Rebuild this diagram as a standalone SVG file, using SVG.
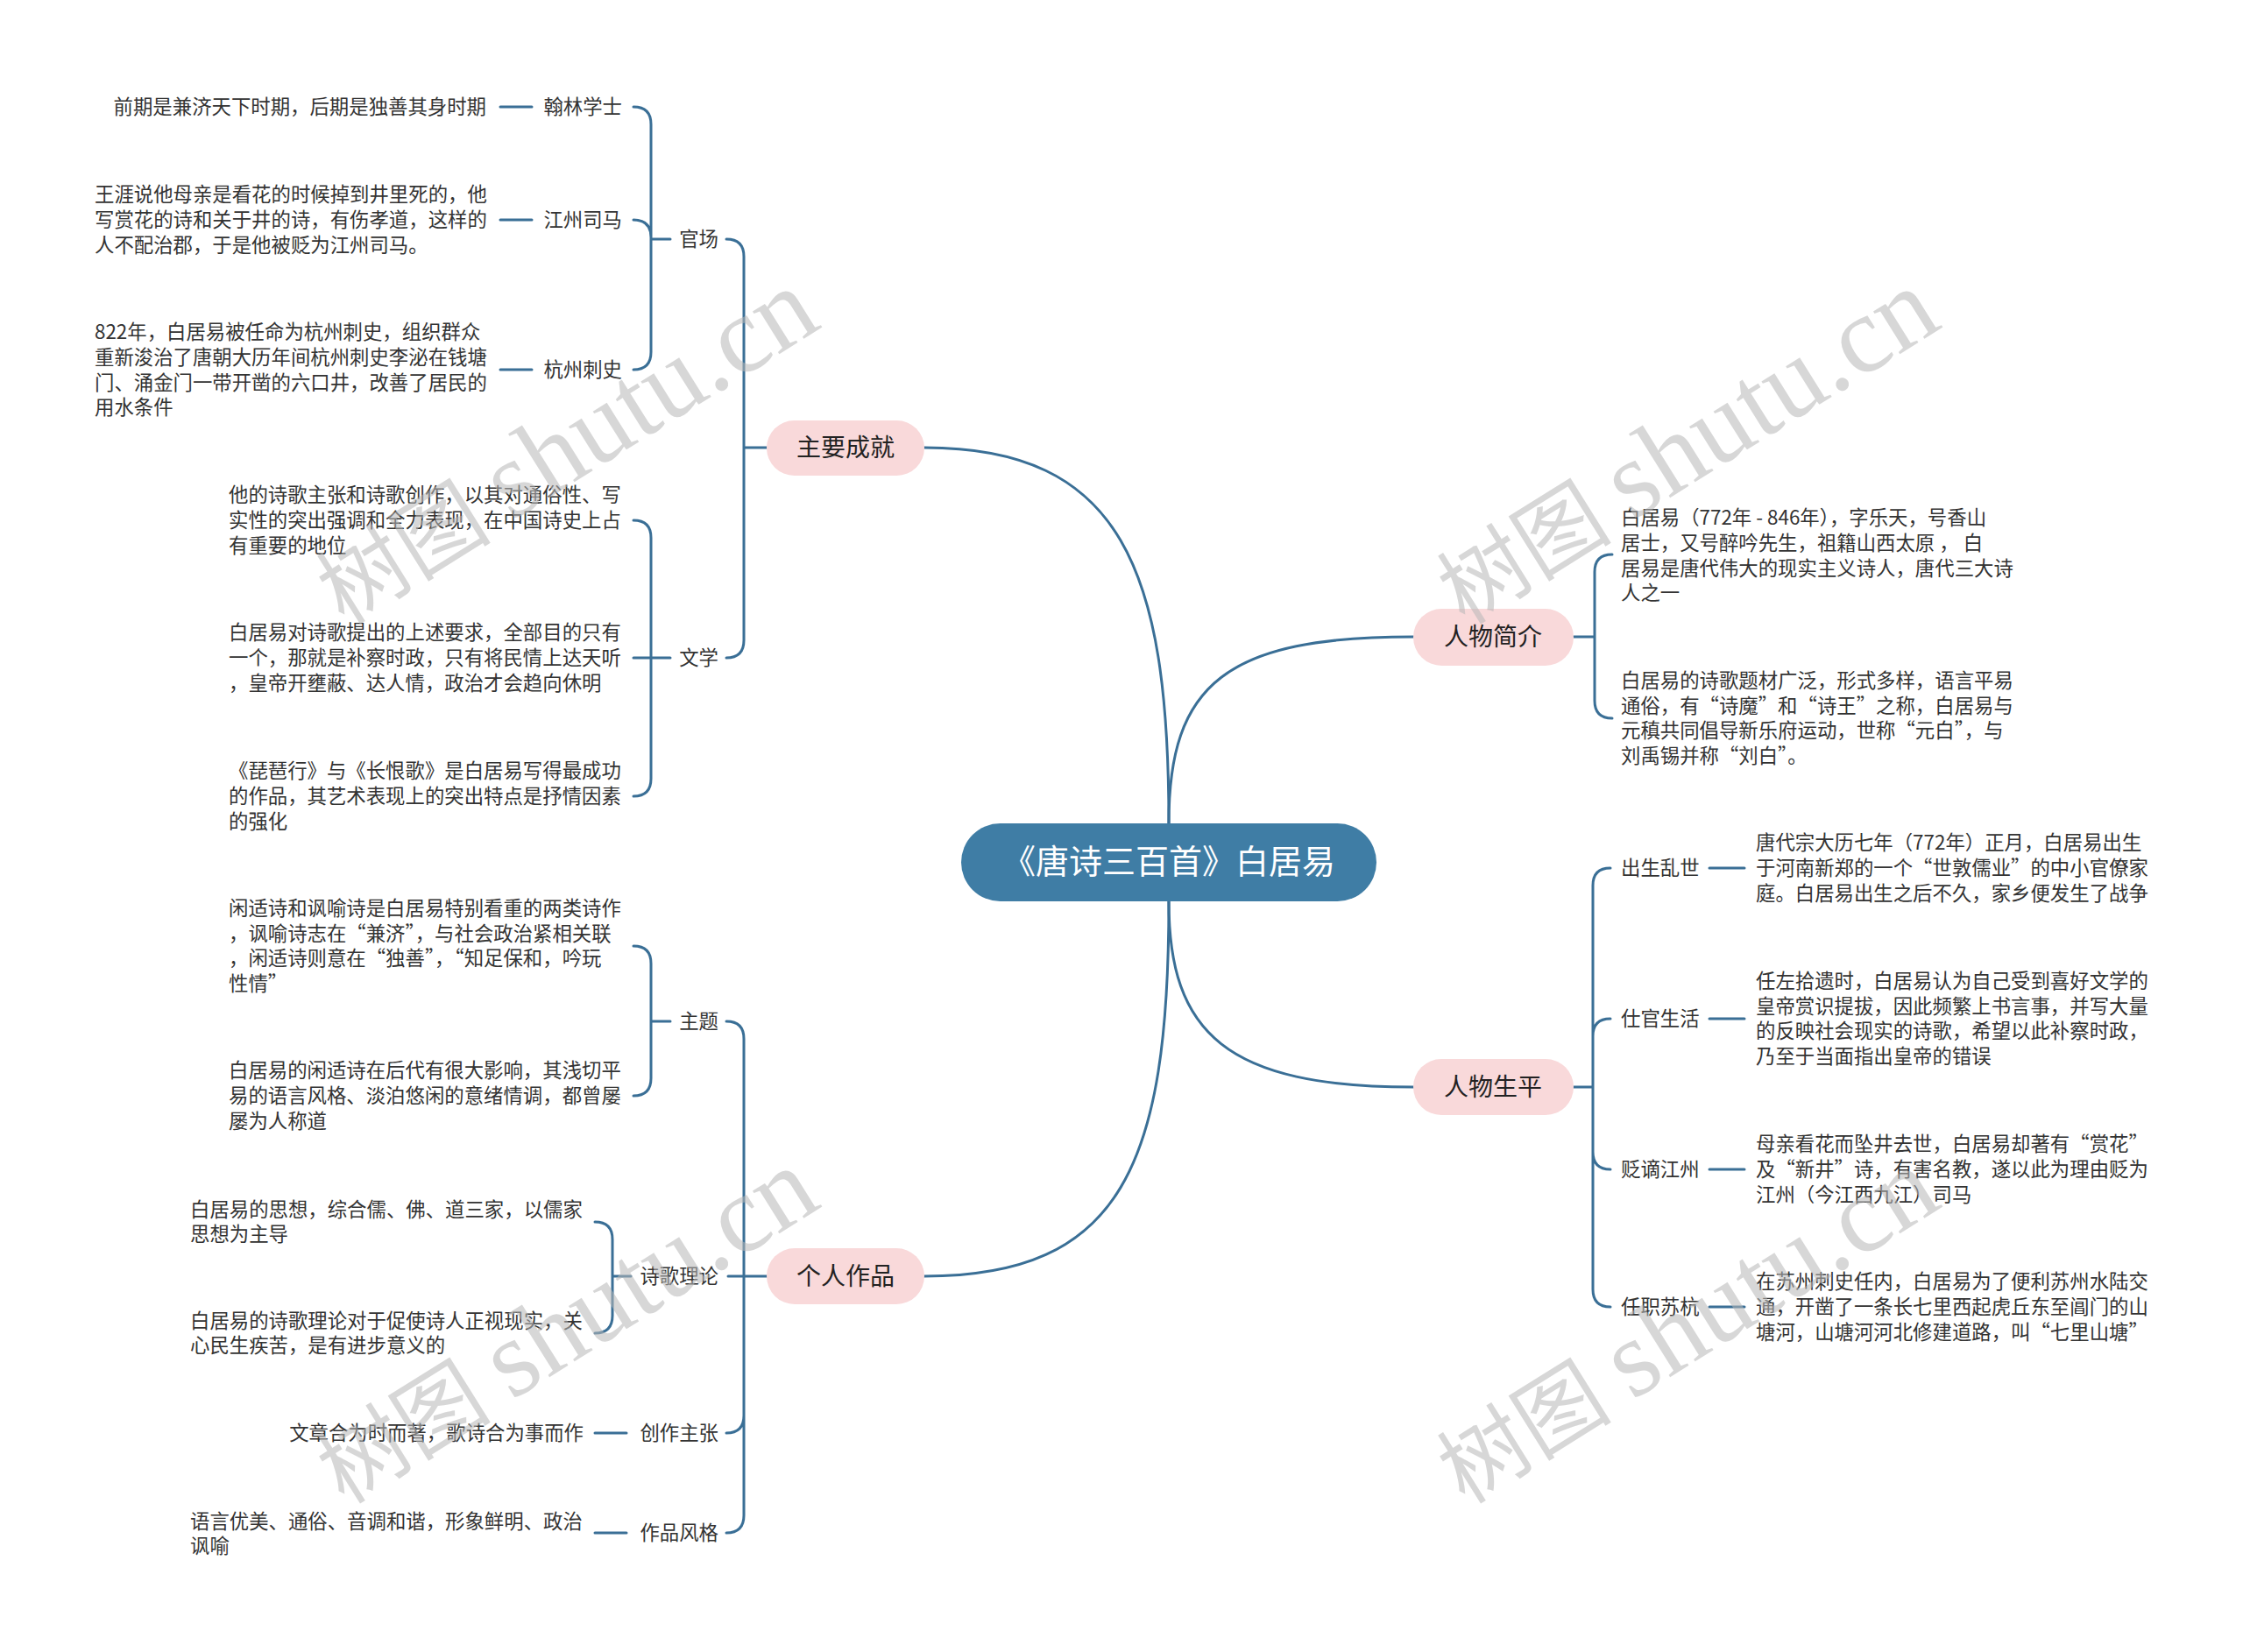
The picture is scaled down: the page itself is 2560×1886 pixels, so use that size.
<svg xmlns="http://www.w3.org/2000/svg" width="2560" height="1886" viewBox="0 0 2560 1886">
<style>
.c{fill:none;stroke:#3a6f96;stroke-width:3;stroke-linecap:round}
.t{font-family:"Noto Sans CJK SC","Liberation Sans",sans-serif;font-size:22.4px;fill:#333}
.e{text-anchor:end}
.l1{font-family:"Noto Sans CJK SC","Liberation Sans",sans-serif;font-size:28px;fill:#222;text-anchor:middle}
.b1{fill:#f9d9da}
.wm{font-family:"Liberation Serif","Noto Sans CJK SC",serif;fill:#b8b8b8;opacity:0.55;text-anchor:middle}
</style>
<rect width="2560" height="1886" fill="#fff"/>
<g id="connectors">
<path class="c" d="M1334,940 C1334,650 1280,511 1055,511"/>
<path class="c" d="M1334,940 C1334,780 1400,727 1613,727"/>
<path class="c" d="M1334,1029 C1334,1180 1400,1241 1613,1241"/>
<path class="c" d="M1334,1029 C1334,1330 1280,1457 1055,1457"/>
<path class="c" d="M875,511 H849 M849,511 V293 Q849,273 829,273 M849,511 V731 Q849,751 829,751"/>
<path class="c" d="M765,273 H743 M743,273 V142 Q743,122 723,122 M743,273 V271 Q743,251 723,251 M743,273 V402 Q743,422 723,422"/>
<path class="c" d="M607,122 H571 M607,251 H571 M607,422 H571"/>
<path class="c" d="M765,751 H743 M743,751 V614 Q743,594 723,594 M743,751 H723 M743,751 V889 Q743,909 723,909"/>
<path class="c" d="M875,1457 H831 M849,1457 V1186 Q849,1166 829,1166 M849,1457 V1616 Q849,1636 829,1636 M849,1457 V1730 Q849,1750 829,1750"/>
<path class="c" d="M765,1166 H743 M743,1166 V1100 Q743,1080 723,1080 M743,1166 V1231 Q743,1251 723,1251"/>
<path class="c" d="M720,1457 H699 M699,1457 V1415 Q699,1395 679,1395 M699,1457 V1502 Q699,1522 679,1522"/>
<path class="c" d="M715,1636 H679 M715,1750 H679"/>
<path class="c" d="M1796,727 H1820 M1820,727 V653 Q1820,633 1840,633 M1820,727 V800 Q1820,820 1840,820"/>
<path class="c" d="M1796,1241 H1818 M1818,1241 V1011 Q1818,991 1838,991 M1818,1241 V1183 Q1818,1163 1838,1163 M1818,1241 V1315 Q1818,1335 1838,1335 M1818,1241 V1472 Q1818,1492 1838,1492"/>
<path class="c" d="M1951,991 H1991 M1951,1163 H1991 M1951,1335 H1991 M1951,1492 H1991"/>
</g>
<g id="root">
<rect x="1097" y="940" width="474" height="89" rx="44.5" fill="#3f7da5"/>
<text x="1334" y="997" font-family="Noto Sans CJK SC,Liberation Sans,sans-serif" font-size="38" fill="#fff" text-anchor="middle">《唐诗三百首》白居易</text>
</g>
<g id="n-zhuyao"><rect class="b1" x="875" y="480" width="180" height="63" rx="31.5"/><text class="l1" x="965" y="521">主要成就</text></g>
<g id="n-jianjie"><rect class="b1" x="1613" y="695" width="183" height="65" rx="32.5"/><text class="l1" x="1704" y="737">人物简介</text></g>
<g id="n-shengping"><rect class="b1" x="1613" y="1209" width="183" height="64" rx="32"/><text class="l1" x="1704" y="1251">人物生平</text></g>
<g id="n-zuopin"><rect class="b1" x="875" y="1425" width="180" height="64" rx="32"/><text class="l1" x="965" y="1467">个人作品</text></g>

<g id="n-guanchang"><text class="t e" x="820" y="281">官场</text></g>
<g id="n-hanlin"><text class="t e" x="710" y="130">翰林学士</text><text class="t e" x="555" y="130">前期是兼济天下时期，后期是独善其身时期</text></g>
<g id="n-jiangzhou"><text class="t e" x="710" y="259">江州司马</text>
<text class="t"><tspan x="108" y="230">王涯说他母亲是看花的时候掉到井里死的，他</tspan><tspan x="108" y="259">写赏花的诗和关于井的诗，有伤孝道，这样的</tspan><tspan x="108" y="288">人不配治郡，于是他被贬为江州司马。</tspan></text></g>
<g id="n-hangzhou"><text class="t e" x="710" y="430">杭州刺史</text>
<text class="t"><tspan x="108" y="387">822年，白居易被任命为杭州刺史，组织群众</tspan><tspan x="108" y="416">重新浚治了唐朝大历年间杭州刺史李泌在钱塘</tspan><tspan x="108" y="445">门、涌金门一带开凿的六口井，改善了居民的</tspan><tspan x="108" y="473">用水条件</tspan></text></g>

<g id="n-wenxue"><text class="t e" x="820" y="759">文学</text></g>
<g id="n-wx1"><text class="t"><tspan x="261" y="573">他的诗歌主张和诗歌创作，以其对通俗性、写</tspan><tspan x="261" y="602">实性的突出强调和全力表现，在中国诗史上占</tspan><tspan x="261" y="631">有重要的地位</tspan></text></g>
<g id="n-wx2"><text class="t"><tspan x="261" y="730">白居易对诗歌提出的上述要求，全部目的只有</tspan><tspan x="261" y="759">一个，那就是补察时政，只有将民情上达天听</tspan><tspan x="261" y="788">，皇帝开壅蔽、达人情，政治才会趋向休明</tspan></text></g>
<g id="n-wx3"><text class="t"><tspan x="261" y="888">《琵琶行》与《长恨歌》是白居易写得最成功</tspan><tspan x="261" y="917">的作品，其艺术表现上的突出特点是抒情因素</tspan><tspan x="261" y="946">的强化</tspan></text></g>

<g id="n-zhuti"><text class="t e" x="820" y="1174">主题</text></g>
<g id="n-zt1"><text class="t"><tspan x="261" y="1045">闲适诗和讽喻诗是白居易特别看重的两类诗作</tspan><tspan x="261" y="1074">，讽喻诗志在“兼济”，与社会政治紧相关联</tspan><tspan x="261" y="1102">，闲适诗则意在“独善”，“知足保和，吟玩</tspan><tspan x="261" y="1131">性情”</tspan></text></g>
<g id="n-zt2"><text class="t"><tspan x="261" y="1230">白居易的闲适诗在后代有很大影响，其浅切平</tspan><tspan x="261" y="1259">易的语言风格、淡泊悠闲的意绪情调，都曾屡</tspan><tspan x="261" y="1288">屡为人称道</tspan></text></g>

<g id="n-shige"><text class="t e" x="820" y="1465">诗歌理论</text></g>
<g id="n-sg1"><text class="t"><tspan x="217" y="1389">白居易的思想，综合儒、佛、道三家，以儒家</tspan><tspan x="217" y="1417">思想为主导</tspan></text></g>
<g id="n-sg2"><text class="t"><tspan x="217" y="1516">白居易的诗歌理论对于促使诗人正视现实，关</tspan><tspan x="217" y="1544">心民生疾苦，是有进步意义的</tspan></text></g>

<g id="n-chuangzuo"><text class="t e" x="820" y="1644">创作主张</text><text class="t e" x="666" y="1644">文章合为时而著，歌诗合为事而作</text></g>
<g id="n-fengge"><text class="t e" x="820" y="1758">作品风格</text>
<text class="t"><tspan x="217" y="1745">语言优美、通俗、音调和谐，形象鲜明、政治</tspan><tspan x="217" y="1773">讽喻</tspan></text></g>

<g id="n-jj1"><text class="t"><tspan x="1850" y="599">白居易（772年 - 846年），字乐天，号香山</tspan><tspan x="1850" y="628">居士，又号醉吟先生，祖籍山西太原 ， 白</tspan><tspan x="1850" y="657">居易是唐代伟大的现实主义诗人，唐代三大诗</tspan><tspan x="1850" y="685">人之一</tspan></text></g>
<g id="n-jj2"><text class="t"><tspan x="1850" y="785">白居易的诗歌题材广泛，形式多样，语言平易</tspan><tspan x="1850" y="814">通俗，有“诗魔”和“诗王”之称，白居易与</tspan><tspan x="1850" y="842">元稹共同倡导新乐府运动，世称“元白”，与</tspan><tspan x="1850" y="871">刘禹锡并称“刘白”。</tspan></text></g>

<g id="n-chusheng"><text class="t" x="1850" y="999">出生乱世</text>
<text class="t"><tspan x="2004" y="970">唐代宗大历七年（772年）正月，白居易出生</tspan><tspan x="2004" y="999">于河南新郑的一个“世敦儒业”的中小官僚家</tspan><tspan x="2004" y="1028">庭。白居易出生之后不久，家乡便发生了战争</tspan></text></g>
<g id="n-shiguan"><text class="t" x="1850" y="1171">仕官生活</text>
<text class="t"><tspan x="2004" y="1128">任左拾遗时，白居易认为自己受到喜好文学的</tspan><tspan x="2004" y="1157">皇帝赏识提拔，因此频繁上书言事，并写大量</tspan><tspan x="2004" y="1185">的反映社会现实的诗歌，希望以此补察时政，</tspan><tspan x="2004" y="1214">乃至于当面指出皇帝的错误</tspan></text></g>
<g id="n-bianzhe"><text class="t" x="1850" y="1343">贬谪江州</text>
<text class="t"><tspan x="2004" y="1314">母亲看花而坠井去世，白居易却著有“赏花”</tspan><tspan x="2004" y="1343">及“新井”诗，有害名教，遂以此为理由贬为</tspan><tspan x="2004" y="1372">江州（今江西九江）司马</tspan></text></g>
<g id="n-renzhi"><text class="t" x="1850" y="1500">任职苏杭</text>
<text class="t"><tspan x="2004" y="1471">在苏州刺史任内，白居易为了便利苏州水陆交</tspan><tspan x="2004" y="1500">通，开凿了一条长七里西起虎丘东至阊门的山</tspan><tspan x="2004" y="1529">塘河，山塘河河北修建道路，叫“七里山塘”</tspan></text></g>

<g id="watermarks">
<text class="wm" transform="translate(648,514) rotate(-32)" y="35" font-size="100">树图 <tspan font-size="125">shutu.cn</tspan></text>
<text class="wm" transform="translate(1927,514) rotate(-32)" y="35" font-size="100">树图 <tspan font-size="125">shutu.cn</tspan></text>
<text class="wm" transform="translate(648,1518) rotate(-32)" y="35" font-size="100">树图 <tspan font-size="125">shutu.cn</tspan></text>
<text class="wm" transform="translate(1927,1518) rotate(-32)" y="35" font-size="100">树图 <tspan font-size="125">shutu.cn</tspan></text>
</g>
</svg>
